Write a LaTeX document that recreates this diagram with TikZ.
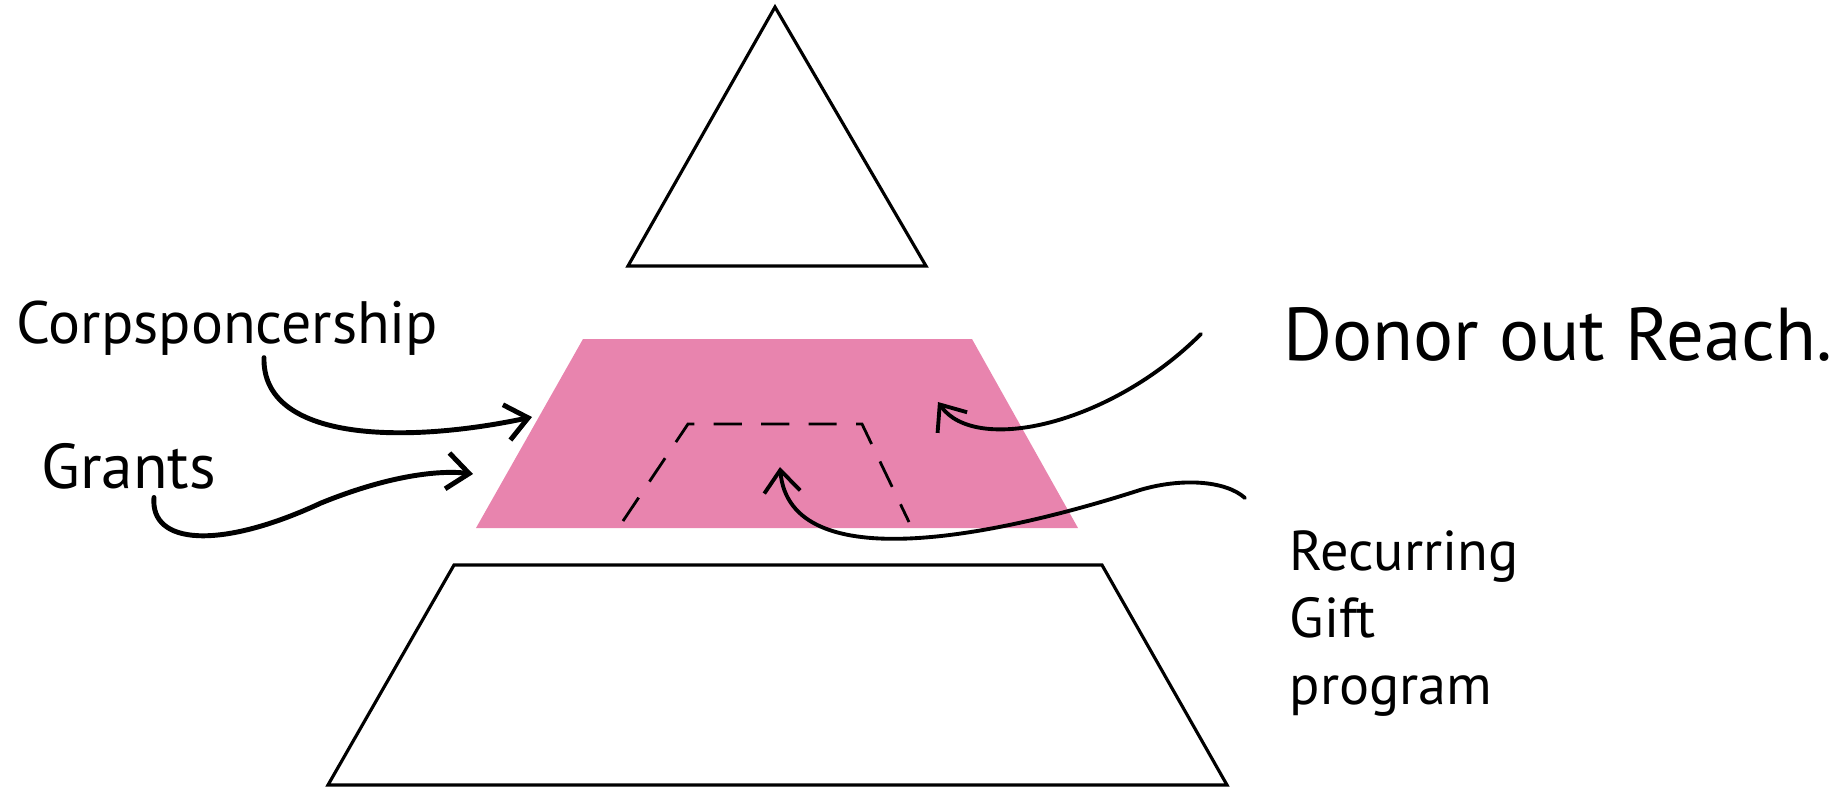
\documentclass[tikz,border=0pt]{standalone}
\usepackage{fontspec}
\setmainfont{PT Sans}
\usetikzlibrary{arrows.meta}
\definecolor{tierpink}{HTML}{E884AE}
\tikzset{
  tier/.style={draw=black,line width=0.9pt},
  inner/.style={draw=black,line width=0.8pt,dash pattern=on 8pt off 5.5pt},
  pointer/.style={-{Straight Barb[length=2.2mm,width=3.6mm]},line width=1.4pt,line cap=round},
  hand/.style={inner sep=0pt,anchor=base west}
}
\begin{document}
\begin{tikzpicture}[x=0.01cm,y=-0.01cm]
\useasboundingbox (0,0) rectangle (1841,790);
\draw[tier] (775,7) -- (926,266) -- (628,266) -- cycle;
\fill[tierpink] (583,339) -- (972,339) -- (1078,528) -- (476,528) -- cycle;
\draw[tier] (454,565) -- (1102,565) -- (1227,785) -- (328,785) -- cycle;
\draw[inner] (623,521) -- (688,424) -- (862,424) -- (909,522);
\node[hand,font=\fontsize{17}{20}\selectfont] (corp) at (16,343) {Corpsponcership};
\node[hand,font=\fontsize{18}{22}\selectfont] (grants) at (41,488) {Grants};
\node[hand,font=\fontsize{21.3}{26}\selectfont] (donor) at (1283,360) {Donor out Reach.};
\node[hand,font=\fontsize{16}{19}\selectfont,align=left,anchor=north west] (recur) at (1289,530)
  {Recurring\\Gift\\program};
\coordinate (corptip) at (532,417);
\coordinate (granttip) at (473,474);
\coordinate (donortip) at (938,402);
\coordinate (recurtip) at (780,467);
\draw[pointer] ([yshift=-0.02cm]corp.south -| 264,0) .. controls (262,440) and (400,445) .. (corptip);
\draw[pointer] ([yshift=-0.08cm]grants.south -| 154,0) .. controls (150,545) and (220,550) .. (321,503)
  .. controls (390,475) and (440,470) .. (granttip);
\draw[pointer,line width=1.1pt] ([xshift=-0.82cm]donor.west) .. controls (1110,425) and (975,455) .. (donortip);
\draw[pointer,line width=1.1pt] ([xshift=-0.44cm,yshift=0.32cm]recur.north west) .. controls (1225,480) and (1180,478) .. (1140,490)
  .. controls (1000,535) and (790,580) .. (recurtip);
\end{tikzpicture}
\end{document}
